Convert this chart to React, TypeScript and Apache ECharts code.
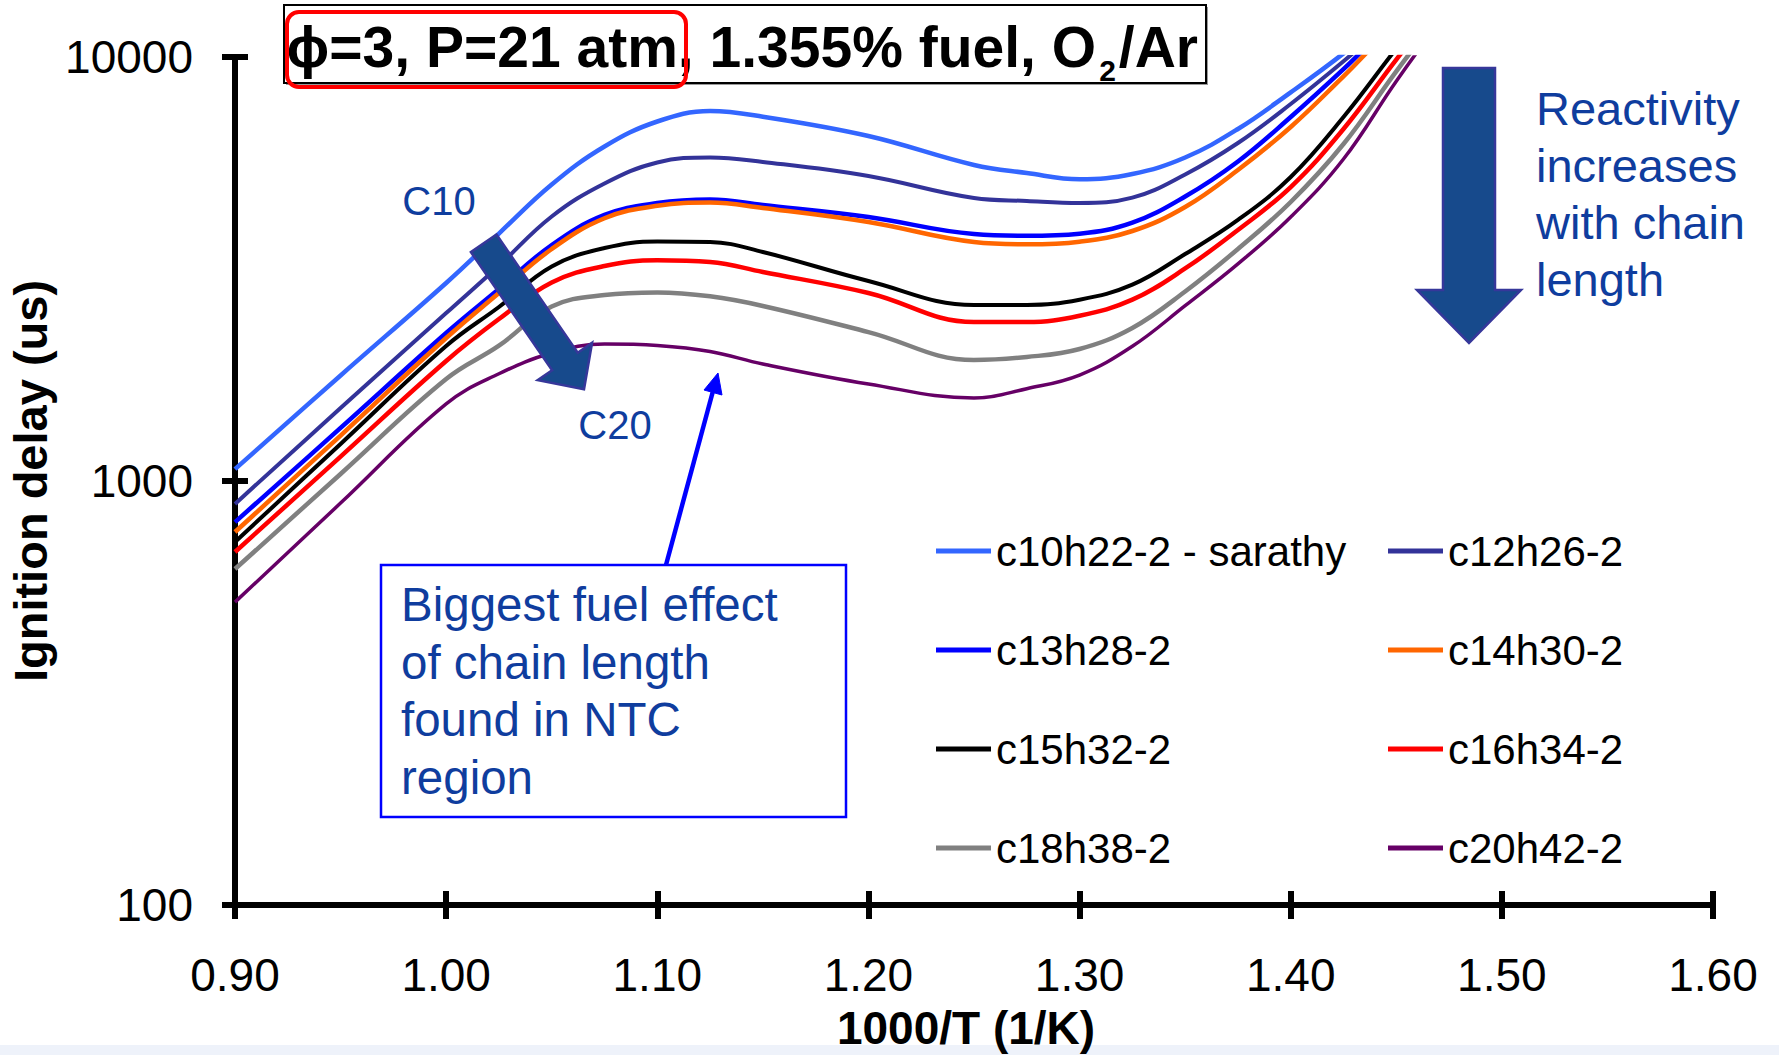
import React, { useEffect, useRef } from 'react';
import * as echarts from 'echarts';

const FONT = '"Liberation Sans", Arial, Helvetica, sans-serif';

// 1000/T (1/K) sample positions
const xValues = [0.90, 0.95, 1.00, 1.025, 1.05, 1.075, 1.10, 1.125, 1.15, 1.20, 1.25, 1.275, 1.30, 1.325, 1.35, 1.375, 1.40, 1.425, 1.45, 1.475];

// Ignition delay (us)
const c10 = [1067, 1774, 2931, 3834, 5004, 6151, 7045, 7457, 7231, 6512, 5564, 5326, 5148, 5298, 5794, 6765, 8254, 10200, 12900, 16000];
const c12 = [883, 1486, 2489, 3219, 4205, 5031, 5640, 5794, 5655, 5240, 4650, 4575, 4525, 4658, 5284, 6268, 7748, 9770, 12500, 15500];
const c13 = [800, 1334, 2234, 2837, 3602, 4241, 4525, 4612, 4476, 4194, 3824, 3789, 3831, 4067, 4688, 5670, 7219, 9360, 12300, 15000];
const c14 = [758, 1280, 2174, 2776, 3525, 4165, 4460, 4537, 4405, 4082, 3662, 3616, 3668, 3887, 4428, 5414, 6838, 9000, 11950, 14700];
const c15 = [718, 1223, 2082, 2573, 3205, 3544, 3672, 3662, 3468, 2963, 2601, 2601, 2677, 2904, 3430, 4127, 5212, 7219, 10470, 15000];
const c16 = [680, 1142, 1919, 2410, 2939, 3214, 3315, 3285, 3111, 2776, 2371, 2371, 2454, 2677, 3171, 3908, 4936, 6765, 9860, 14200];
const c18 = [620, 1039, 1740, 2085, 2580, 2746, 2784, 2726, 2587, 2245, 1929, 1961, 2048, 2296, 2799, 3525, 4550, 6234, 9250, 13500];
const c20 = [518, 887, 1520, 1790, 2004, 2104, 2087, 2020, 1888, 1694, 1570, 1651, 1778, 2078, 2591, 3251, 4194, 5746, 8770, 13000];

const seriesNames = ['c10h22-2 - sarathy', 'c12h26-2', 'c13h28-2', 'c14h30-2', 'c15h32-2', 'c16h34-2', 'c18h38-2', 'c20h42-2'];
const seriesValues = [c10, c12, c13, c14, c15, c16, c18, c20];
const seriesColors = ['#3366ff', '#333399', '#0000ff', '#ff6600', '#000000', '#ff0000', '#808080', '#660066'];
const seriesWidths = [4.5, 4, 4.5, 4.5, 4, 4.5, 4.5, 3.5];

const xTickLabels = ['0.90', '1.00', '1.10', '1.20', '1.30', '1.40', '1.50', '1.60'];
const yTickLabels = ['100', '1000', '10000'];

const ANNOT = '#0f3d9e';
const ARROW_FILL = '#174a8c';
const ARROW_STROKE = '#36379a';

function txt(x: number, y: number, text: string, font: string, fill: string, align = 'left', vAlign = 'middle', extra: any = {}) {
  return {
    type: 'text',
    x,
    y,
    z: 100,
    style: {
      text,
      font,
      fill,
      align,
      textAlign: align,
      verticalAlign: vAlign,
      textVerticalAlign: vAlign,
      ...extra,
    },
  };
}

export default function App() {
  const ref = useRef<HTMLDivElement>(null);

  useEffect(() => {
    const chart = echarts.init(ref.current!, null, { renderer: 'svg' });

    const series = seriesNames.map((name, i) => ({
      name,
      type: 'line',
      data: xValues.map((x, j) => [x, seriesValues[i][j]]),
      showSymbol: false,
      symbol: 'none',
      smooth: 0.4,
      clip: true,
      color: seriesColors[i],
      itemStyle: { color: seriesColors[i] },
      lineStyle: { color: seriesColors[i], width: seriesWidths[i] },
      z: 2 + i * 0.01,
    }));

    const baseX = {
      type: 'value',
      min: 0.9,
      max: 1.6,
      interval: 0.1,
      splitLine: { show: false },
    };
    const baseY = {
      type: 'log',
      logBase: 10,
      min: 100,
      max: 10000,
      splitLine: { show: false },
      minorTick: { show: false },
    };

    const legendCommon = {
      orient: 'vertical',
      top: 530,
      padding: 0,
      itemGap: 57,
      itemWidth: 55,
      itemHeight: 5,
      icon: 'rect',
      selectedMode: false,
      itemStyle: { borderWidth: 0 },
      textStyle: { fontSize: 42, color: '#000', fontFamily: FONT },
    };

    const option: any = {
      animation: false,
      backgroundColor: '#ffffff',
      grid: { left: 235, right: 66, top: 57, bottom: 150, containLabel: false, outerBoundsMode: 'none' },
      xAxis: [
        {
          ...baseX,
          position: 'bottom',
          axisLine: { show: true, onZero: false, lineStyle: { color: '#000', width: 6 } },
          axisTick: { show: true, inside: false, length: 14, lineStyle: { color: '#000', width: 6 } },
          axisLabel: {
            show: true,
            margin: 47,
            fontSize: 46,
            color: '#000',
            fontFamily: FONT,
            formatter: (v: number) => xTickLabels[Math.round((v - 0.9) / 0.1)] ?? '',
          },
          name: '1000/T (1/K)',
          nameLocation: 'middle',
          nameGap: 100,
          nameTextStyle: { fontSize: 46, fontWeight: 'bold', color: '#000', fontFamily: FONT, padding: [0, 16, 0, 0] },
        },
        {
          ...baseX,
          position: 'bottom',
          axisLine: { show: false, onZero: false },
          axisTick: { show: true, inside: true, length: 14, lineStyle: { color: '#000', width: 6 } },
          axisLabel: { show: false },
        },
      ],
      yAxis: [
        {
          ...baseY,
          position: 'left',
          axisLine: { show: true, onZero: false, lineStyle: { color: '#000', width: 6 } },
          axisTick: { show: true, inside: false, length: 13, lineStyle: { color: '#000', width: 6 } },
          axisLabel: {
            show: true,
            margin: 42,
            fontSize: 46,
            color: '#000',
            fontFamily: FONT,
            formatter: (v: number) => yTickLabels[Math.round(Math.log10(v)) - 2] ?? '',
          },
          name: 'Ignition delay (us)',
          nameLocation: 'middle',
          nameGap: 178,
          nameTextStyle: { fontSize: 47, fontWeight: 'bold', color: '#000', fontFamily: FONT },
        },
        {
          ...baseY,
          position: 'left',
          axisLine: { show: false, onZero: false },
          axisTick: { show: true, inside: true, length: 13, lineStyle: { color: '#000', width: 6 } },
          axisLabel: { show: false },
        },
      ],
      legend: [
        { ...legendCommon, data: [seriesNames[0], seriesNames[2], seriesNames[4], seriesNames[6]], left: 936 },
        { ...legendCommon, data: [seriesNames[1], seriesNames[3], seriesNames[5], seriesNames[7]], left: 1388 },
      ],
      series,
      graphic: [
        // bottom light band
        { type: 'rect', z: -10, shape: { x: 0, y: 1045, width: 1779, height: 10 }, style: { fill: '#eef2fa' } },
        // title box
        { type: 'rect', z: 99, shape: { x: 286, y: 7, width: 922, height: 78 }, style: { fill: '#9a9a9a' } },
        { type: 'rect', z: 100, shape: { x: 284, y: 5, width: 922, height: 78 }, style: { fill: '#ffffff', stroke: '#000', lineWidth: 2 } },
        txt(1096, 47, 'ϕ=3, P=21 atm, 1.355% fuel, O', `bold 57px ${FONT}`, '#000', 'right'),
        txt(1116, 70, '2', `bold 30px ${FONT}`, '#000', 'right'),
        txt(1198, 47, '/Ar', `bold 57px ${FONT}`, '#000', 'right'),
        { type: 'rect', z: 101, shape: { x: 287, y: 12, width: 399, height: 75, r: 12 }, style: { fill: 'none', stroke: '#ff0000', lineWidth: 4 } },
        // C10 / C20 labels
        txt(439, 201, 'C10', `40px ${FONT}`, ANNOT, 'center'),
        txt(615, 425, 'C20', `40px ${FONT}`, ANNOT, 'center'),
        // diagonal block arrow
        {
          type: 'polygon',
          z: 100,
          shape: {
            points: [
              [470.9, 252.1], [496.5, 234.5], [577.7, 352.7], [592.1, 342.8], [584, 389.3], [537.7, 380.2], [552.1, 370.3],
            ],
          },
          style: { fill: ARROW_FILL, stroke: ARROW_STROKE, lineWidth: 2.5 },
        },
        // big down arrow
        {
          type: 'polygon',
          z: 100,
          shape: {
            points: [
              [1443, 68], [1495, 68], [1495, 290], [1521, 290], [1469, 343], [1417, 290], [1443, 290],
            ],
          },
          style: { fill: ARROW_FILL, stroke: ARROW_STROKE, lineWidth: 2.5 },
        },
        txt(1536, 80, 'Reactivity\nincreases\nwith chain\nlength', `47px ${FONT}`, ANNOT, 'left', 'top', { lineHeight: 57 }),
        // NTC text box
        { type: 'rect', z: 100, shape: { x: 381, y: 565, width: 465, height: 252 }, style: { fill: '#ffffff', stroke: '#0000ff', lineWidth: 2.5 } },
        txt(401, 576, 'Biggest fuel effect\nof chain length\nfound in NTC\nregion', `47.5px ${FONT}`, ANNOT, 'left', 'top', { lineHeight: 57.5 }),
        // pointer arrow
        { type: 'line', z: 100, shape: { x1: 666, y1: 565, x2: 713, y2: 391 }, style: { stroke: '#0000ff', lineWidth: 4.5 } },
        { type: 'polygon', z: 100, shape: { points: [[718, 373], [722, 395], [704, 390]] }, style: { fill: '#0000ff', stroke: '#0000ff', lineWidth: 1 } },
      ],
    };

    chart.setOption(option);
    return () => chart.dispose();
  }, []);

  return (
    <div
      ref={ref}
      style={{ position: 'fixed', left: 0, top: 0, width: 1779, height: 1055, background: '#ffffff' }}
    />
  );
}
